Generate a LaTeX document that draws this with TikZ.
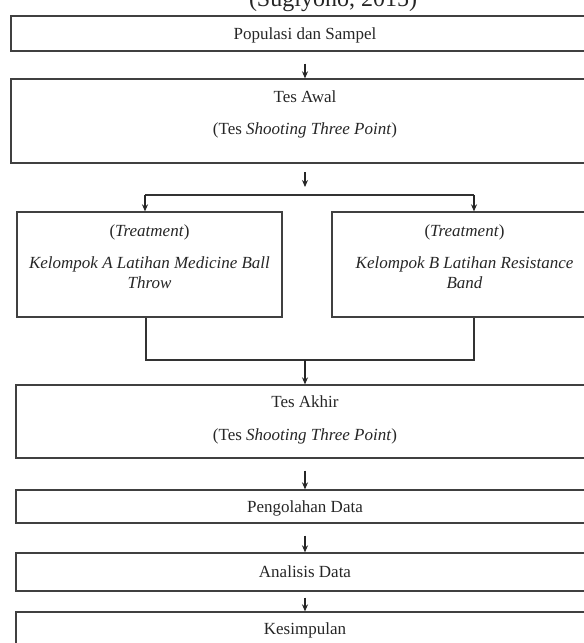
\documentclass[tikz,border=0pt]{standalone}
\usepackage{fontspec}
\setmainfont{Liberation Serif}
\usetikzlibrary{arrows.meta}
\begin{document}
\begin{tikzpicture}[x=1pt,y=-1pt,
  box/.style={draw=black!75, line width=1.3pt, inner sep=0pt, fill=none},
  txt/.style={font=\fontsize{17}{20}\selectfont, text=black!85, anchor=base, inner sep=0pt},
  arr/.style={-{Stealth[length=7pt,width=6pt]}, line width=1.2pt, draw=black!85},
  ln/.style={line width=1.2pt, draw=black!80}]
\useasboundingbox (0,0) rectangle (584,643);

\node[font=\fontsize{24}{28}\selectfont, text=black!85, anchor=base, inner sep=0pt] (src) at (333,6) {(Sugiyono, 2015)};

% boxes
\node[box, minimum width=588pt, minimum height=35pt] (b1) at (305,33.5) {};
\node[box, minimum width=588pt, minimum height=84pt] (b2) at (305,121) {};
\node[box, minimum width=265pt, minimum height=105pt] (tA) at (149.5,264.5) {};
\node[box, minimum width=265pt, minimum height=105pt] (tB) at (464.5,264.5) {};
\node[box, minimum width=578pt, minimum height=73pt] (b3) at (305,421.5) {};
\node[box, minimum width=578pt, minimum height=33pt] (b4) at (305,506.5) {};
\node[box, minimum width=578pt, minimum height=38pt] (b5) at (305,572) {};
\node[box, minimum width=578pt, minimum height=48pt] (b6) at (305,636) {};

% texts
\node[txt] (x1) at (305,39) {Populasi dan Sampel};
\node[txt] (x2a) at (305,102) {Tes Awal};
\node[txt] (x2b) at (305,134) {(Tes \textit{Shooting Three Point})};
\node[txt] (xAa) at (149.5,236) {(\textit{Treatment})};
\node[txt] (xAb) at (149.5,268) {\textit{Kelompok A Latihan Medicine Ball}};
\node[txt] (xAc) at (149.5,288) {\textit{Throw}};
\node[txt] (xBa) at (464.5,236) {(\textit{Treatment})};
\node[txt] (xBb) at (464.5,268) {\textit{Kelompok B Latihan Resistance}};
\node[txt] (xBc) at (464.5,288) {\textit{Band}};
\node[txt] (x3a) at (305,407) {Tes Akhir};
\node[txt] (x3b) at (305,440) {(Tes \textit{Shooting Three Point})};
\node[txt] (x4) at (305,512) {Pengolahan Data};
\node[txt] (x5) at (305,577.5) {Analisis Data};
\node[txt] (x6) at (305,634) {Kesimpulan};

% connectors
\draw[arr] ([yshift=-12pt]b1.south) -- (b2.north);
\coordinate (a2s) at (305,172);
\coordinate (a2e) at (305,187);
\draw[arr] (a2s) -- (a2e);
\coordinate (sL) at (145,195);
\coordinate (sR) at (474,195);
\draw[ln] (sL) -- (sR);
\draw[arr] (sL) -- (sL |- tA.north);
\draw[arr] (sR) -- (sR |- tB.north);
\coordinate (mL) at (146,360);
\coordinate (mR) at (474,360);
\coordinate (mC) at (305,360);
\draw[ln] (mL |- tA.south) -- (mL) -- (mR) -- (mR |- tB.south);
\draw[arr] (mC) -- (b3.north);
\draw[arr] ([yshift=-12pt]b3.south) -- (b4.north);
\draw[arr] ([yshift=-12pt]b4.south) -- (b5.north);
\draw[arr] ([yshift=-6pt]b5.south) -- (b6.north);
\end{tikzpicture}
\end{document}
